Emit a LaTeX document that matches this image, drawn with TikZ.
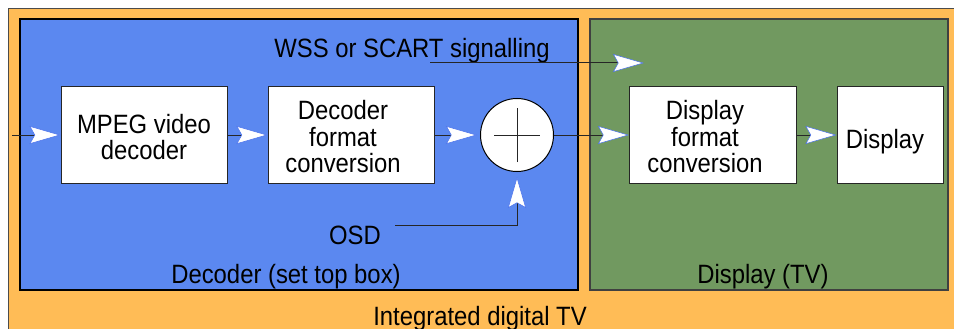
\documentclass[tikz,border=0pt]{standalone}
\usepackage{fontspec}
\setmainfont{Liberation Sans}[FakeStretch=0.9]
\usetikzlibrary{arrows.meta}
\definecolor{tvorange}{RGB}{255,188,86}
\definecolor{stbblue}{RGB}{91,136,240}
\definecolor{tvgreen}{RGB}{113,153,96}
\definecolor{tipblue}{RGB}{70,110,235}

\begin{document}
\begin{tikzpicture}[x=1pt,y=-1pt,
  blockbox/.style={draw=black!85, line width=1pt, fill=white, minimum height=97pt, inner sep=0pt},
  txt/.style={font=\fontsize{26.5}{26.5}\selectfont, align=center, inner sep=0pt},
  flow/.style={draw=black!85, line width=1pt,
    -{Stealth[length=31pt,width=18pt,inset=5pt,color=tipblue,fill=white,line width=0.5pt]}},
]
\useasboundingbox (0,0) rectangle (954,329);

% outer frame: integrated TV
\begin{scope}
  \clip (0,0) rectangle (954,329);
  \fill[white] (0,0) rectangle (954,329);
  \filldraw[fill=tvorange, draw=black!70, line width=0.8pt] (8,8) rectangle (990,360);
\end{scope}

% set top box and TV regions
\filldraw[fill=stbblue, draw=black, line width=1.5pt] (20,19) rectangle (578,290);
\filldraw[fill=tvgreen, draw=black!75, line width=1.2pt] (590,19) rectangle (948,290);

% processing blocks
\node[blockbox, minimum width=166pt] (mpeg) at (144,135) {};
\node[txt] (mpegt) at (144,137) {MPEG video\\decoder};
\node[blockbox, minimum width=166pt] (dec) at (351,135) {};
\node[txt] (dect) at (343,137) {Decoder\\format\\conversion};
\node[circle, draw=black, line width=1pt, fill=white, minimum size=73pt, inner sep=0pt] (sum) at (517,135) {};
\draw[line width=1pt, black!85] ([xshift=-23pt]sum.center) -- ([xshift=23pt]sum.center);
\draw[line width=1pt, black!85] ([yshift=-27pt]sum.center) -- ([yshift=27pt]sum.center);
\node[blockbox, minimum width=167pt] (dfc) at (713,135) {};
\node[txt] (dfct) at (705,137) {Display\\format\\conversion};
\node[blockbox, minimum width=106pt] (disp) at (890,135) {};
\node[txt, anchor=base] (dispt) at (885,148) {Display};

% signal labels
\node[txt, anchor=base] (wss) at (412,58) {WSS or SCART signalling};
\node[txt, anchor=base] (osd) at (355,244) {OSD};
\node[txt, anchor=base] (stb) at (286,283) {Decoder (set top box)};
\node[txt, anchor=base] (tv) at (763,283) {Display (TV)};
\node[txt, anchor=base] (idtv) at (480,325) {Integrated digital TV};

% signal flow
\coordinate (vin) at (12,135);
\coordinate (wssfrom) at (430,63);
\coordinate (wssto) at (644,63);
\coordinate (osdfrom) at (395,225);

\draw[flow] (vin) -- (mpeg.west);
\draw[flow] (mpeg.east) -- (dec.west);
\draw[flow, shorten >=3pt] (dec.east) -- (sum.west);
\draw[flow] (sum.east) -- (dfc.west);
\draw[flow] (dfc.east) -- (disp.west);
\draw[flow] (wssfrom) -- (wssto);
\draw[flow, shorten >=5pt] (osdfrom) -| (sum.south);
\end{tikzpicture}
\end{document}
